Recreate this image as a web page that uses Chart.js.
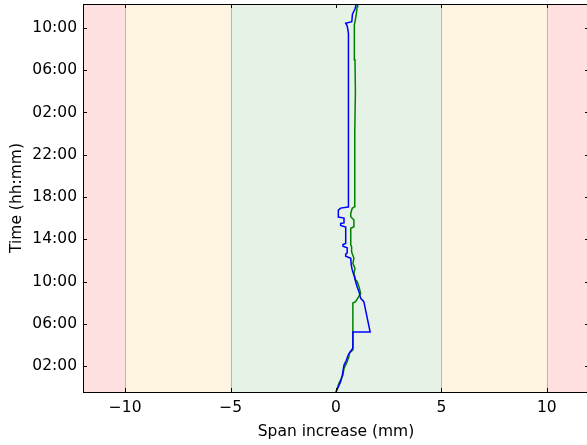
<!DOCTYPE html>
<html><head><meta charset="utf-8">
<script src="https://cdn.jsdelivr.net/npm/chart.js@4/dist/chart.umd.min.js"></script>
<style>html,body{margin:0;padding:0;overflow:hidden;background:#fff}canvas{display:block}</style>
</head><body>
<canvas id="c" width="590" height="445" style="width:590px;height:445px"></canvas>
<script>
// Time in hours (ticks shown as hh:mm, modulo 24), span increase in mm
const blueTime = [-0.46,0.52,1.15,2.1,2.5,3.04,3.3,3.68,5.22,5.22,8.09,8.41,9.04,9.5,10.0,10.6,11.1,11.6,12.2,12.4,12.6,12.7,13.2,13.35,13.5,13.6,15.15,15.3,15.5,15.55,16.0,16.1,16.75,16.95,17.05,20.0,23.4,27.0,31.0,33.5,34.2,34.45,34.6,35.3,35.8,36.4];
const blueSpan = [0,0.22,0.30,0.38,0.48,0.58,0.66,0.80,0.80,1.62,1.32,1.17,1.09,1.00,0.93,0.85,0.77,0.72,0.70,0.46,0.46,0.53,0.53,0.33,0.33,0.46,0.46,0.22,0.22,0.38,0.38,0.11,0.11,0.22,0.58,0.59,0.58,0.60,0.58,0.60,0.53,0.46,0.75,0.78,0.90,0.98];
const greenTime = [-0.46,0.36,1.15,1.78,2.41,2.88,3.23,3.52,7.97,8.09,8.88,9.51,9.98,10.14,10.78,11.25,11.72,12.2,12.8,13.3,13.46,15.04,15.19,15.82,16.14,16.46,16.93,17.08,20.0,24.0,28.0,31.0,33.0,34.3,34.8,35.4,36.0,36.4];
const greenSpan = [0,0.14,0.33,0.38,0.53,0.61,0.64,0.80,0.80,0.93,1.17,1.09,1.01,0.93,0.85,0.90,0.80,0.85,0.74,0.74,0.70,0.70,0.85,0.85,0.70,0.70,0.77,0.88,0.90,0.88,0.92,0.90,0.88,0.86,0.92,0.97,1.00,1.03];
const xTicks = [-10,-5,0,5,10];
const yTicks = [2,6,10,14,18,22,26,30,34];
const bands = [[-12,-10,'rgba(255,0,0,0.12)'],[-10,-5,'rgba(255,165,0,0.12)'],[-5,5,'rgba(0,128,0,0.1)'],[5,10,'rgba(255,165,0,0.12)'],[10,12,'rgba(255,0,0,0.12)']];
const bandEdges = [-10,-5,5,10];

function pts(xs, ys){ return xs.map((v,i)=>({x:v,y:ys[i]})); }
function fmtTime(v){ const h=((v%24)+24)%24; return String(h).padStart(2,'0')+':00'; }

const FONT = "'DejaVu Sans', sans-serif";
const FS = 15.5;

const bgPlugin = {
  id:'bg',
  beforeDatasetsDraw(chart){
    const {ctx, chartArea:a, scales:{x}} = chart;
    ctx.save();
    bands.forEach(([l,r,c])=>{
      const x1=x.getPixelForValue(l), x2=x.getPixelForValue(r);
      ctx.fillStyle=c; ctx.fillRect(x1,a.top,x2-x1,a.bottom-a.top);
    });
    ctx.strokeStyle='#b8b8b8'; ctx.lineWidth=1;
    bandEdges.forEach(v=>{
      const px=Math.round(x.getPixelForValue(v))+0.5;
      ctx.beginPath(); ctx.moveTo(px,a.top); ctx.lineTo(px,a.bottom); ctx.stroke();
    });
    ctx.restore();
  },
  afterDatasetsDraw(chart){
    const {ctx, chartArea:a, scales:{x,y}} = chart;
    ctx.save();
    ctx.strokeStyle='#000'; ctx.lineWidth=1;
    const L=4;
    ctx.beginPath();
    xTicks.forEach(v=>{
      const px=Math.round(x.getPixelForValue(v))+0.5;
      ctx.moveTo(px,a.bottom); ctx.lineTo(px,a.bottom-L);
      ctx.moveTo(px,a.top); ctx.lineTo(px,a.top+L);
    });
    yTicks.forEach(v=>{
      const py=Math.round(y.getPixelForValue(v))+0.5;
      ctx.moveTo(a.left,py); ctx.lineTo(a.left+L,py);
      ctx.moveTo(a.right,py); ctx.lineTo(a.right-L,py);
    });
    ctx.stroke();
    ctx.strokeRect(Math.round(a.left)+0.5, Math.round(a.top)+0.5, Math.round(a.right-a.left), Math.round(a.bottom-a.top));
    ctx.restore();
  }
};

new Chart(document.getElementById('c'), {
  type:'scatter',
  data:{datasets:[
    {data:pts(blueSpan,blueTime), showLine:true, borderColor:'#0000ff', backgroundColor:'#0000ff', borderWidth:1.5, pointRadius:0, fill:false},
    {data:pts(greenSpan,greenTime), showLine:true, borderColor:'#008000', backgroundColor:'#008000', borderWidth:1.5, pointRadius:0, fill:false}
  ]},
  options:{
    responsive:false, animation:false,
    layout:{padding:{top:4,right:1,left:0,bottom:0}},
    plugins:{legend:{display:false}, tooltip:{enabled:false}},
    scales:{
      x:{type:'linear', min:-12, max:12,
        afterBuildTicks:s=>{s.ticks=xTicks.map(v=>({value:v}));},
        afterFit:s=>{s.height=53; s.paddingLeft=0; s.paddingRight=0;},
        grid:{display:false, drawTicks:false}, border:{display:false},
        ticks:{padding:7, color:'#000', font:{family:FONT,size:FS}, maxRotation:0,
          callback:v=>(v<0?'\u2212'+Math.abs(v):String(v))},
        title:{display:true, text:'Span increase (mm)', color:'#000', font:{family:FONT,size:FS}, padding:{top:2,bottom:4}}
      },
      y:{type:'linear', min:-0.46, max:36.27,
        afterBuildTicks:s=>{s.ticks=yTicks.map(v=>({value:v}));},
        afterFit:s=>{s.width=83; s.paddingTop=0; s.paddingBottom=0;},
        grid:{display:false, drawTicks:false}, border:{display:false},
        ticks:{padding:6, color:'#000', font:{family:FONT,size:FS}, callback:v=>fmtTime(v)},
        title:{display:true, text:'Time (hh:mm)', color:'#000', font:{family:FONT,size:FS}, padding:{top:8,bottom:0}}
      }
    }
  },
  plugins:[bgPlugin]
});
</script>
</body></html>
